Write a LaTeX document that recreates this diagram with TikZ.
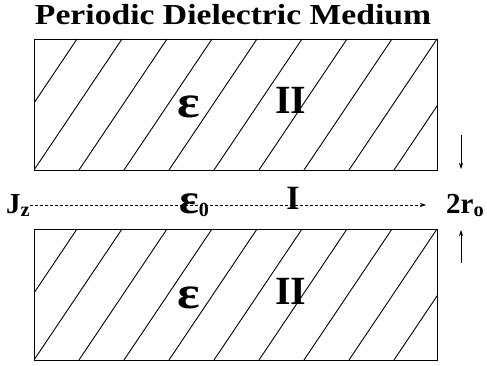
\documentclass[tikz,border=0pt]{standalone}
\usepackage{fontspec}
\setmainfont{Liberation Serif}
\usepackage{graphicx}
\usetikzlibrary{arrows.meta,positioning}

\begin{document}
\begin{tikzpicture}[x=1pt,y=-1pt,
  slab/.style={draw,line width=1.4pt},
  hatch/.style={line width=0.9pt},
  lbl/.style={font=\fontsize{40}{40}\selectfont\bfseries,inner sep=0pt,anchor=base},
  eps/.style={font=\fontsize{46}{46}\selectfont\bfseries,inner sep=0pt,anchor=base},
  side/.style={font=\fontsize{29}{29}\selectfont\bfseries,inner sep=0pt,anchor=base},
  gap/.style={-{Stealth[length=6pt,width=4pt]},line width=0.6pt}
]
  \useasboundingbox (0,0) rectangle (487,366);

  % title
  \node[inner sep=0pt,anchor=base,font=\fontsize{29}{29}\selectfont\bfseries] (title) at (233,25)
    {\scalebox{1.16}[1]{Periodic Dielectric Medium}};

  % the two dielectric slabs
  \foreach \nm/\yt in {upper/39,lower/229}{
    \begin{scope}
      \clip (34,\yt) rectangle (437,\yt+131);
      \foreach \k in {-1,...,8}
        \draw[hatch] (34+45*\k,\yt+131) -- (122+45*\k,\yt);
    \end{scope}
    \node[slab,inner sep=0pt,minimum width=403pt,minimum height=131pt,anchor=north west] (\nm) at (34,\yt) {};
  }

  % region labels
  \node[eps] (epsU) at (189,118) {\scalebox{1.15}[1]{ε}};
  \node[lbl] (twoU) at (291,114) {II};
  \node[eps] (epsL) at (189,308) {\scalebox{1.15}[1]{ε}};
  \node[lbl] (twoL) at (291,304) {II};

  % source line in the gap
  \node[side,anchor=base west] (Jz) at (6,213) {J\textsubscript{z}};
  \coordinate (tip) at (426,205);
  \draw[gap,dashed,dash pattern=on 3pt off 2pt] (Jz.east |- tip) -- (tip);
  \node[eps,anchor=base west,font=\fontsize{42}{42}\selectfont\bfseries] (eps0) at (179,214)
    {\scalebox{1.1}[1]{ε}{\fontsize{20}{20}\selectfont\raisebox{-2pt}{0}}};
  \node[lbl,font=\fontsize{34}{34}\selectfont\bfseries] (one) at (293,209) {I};
  \node[side,anchor=base west] (rr) at (446,213) {2r\textsubscript{o}};

  % gap width marks
  \coordinate (dtop) at (461,135);
  \coordinate (dbot) at (461,169);
  \coordinate (ubot) at (461,263);
  \coordinate (utop) at (461,230);
  \draw[gap] (dtop) -- (dbot);
  \draw[gap] (ubot) -- (utop);
\end{tikzpicture}
\end{document}
